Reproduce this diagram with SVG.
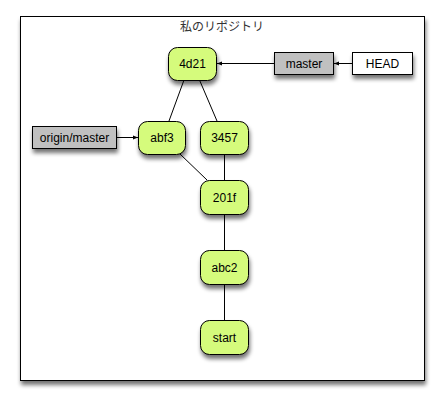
<svg xmlns="http://www.w3.org/2000/svg" width="445" height="404" viewBox="0 0 445 404">
<defs>
<filter id="sh" x="-30%" y="-30%" width="160%" height="180%">
<feGaussianBlur in="SourceAlpha" stdDeviation="2"/>
<feOffset dx="1" dy="4" result="b"/>
<feComponentTransfer><feFuncA type="linear" slope="0.55"/></feComponentTransfer>
<feMerge><feMergeNode/><feMergeNode in="SourceGraphic"/></feMerge>
</filter>
<marker id="ah" viewBox="0 0 10 10" refX="10" refY="5" markerWidth="5" markerHeight="5" orient="auto" markerUnits="userSpaceOnUse">
<path d="M0,1 L10,5 L0,9 z" fill="#000"/>
</marker>
<style>
.commit{fill:#d5fb7b;stroke:#000;stroke-width:1}
.ref{fill:#c0c0c0;stroke:#000;stroke-width:1}
.head{fill:#fff;stroke:#000;stroke-width:1}
.lbl{font-family:"Liberation Sans",Arial,sans-serif;font-size:12px;fill:#000;text-anchor:middle}
.edge{stroke:#000;stroke-width:1;fill:none}
.title{font-family:"Noto Sans CJK JP","Liberation Sans",sans-serif;font-size:12px;fill:#333;text-anchor:middle}
</style>
</defs>
<rect width="445" height="404" fill="#fff"/>
<g id="frame">
<rect x="20.5" y="16.5" width="404" height="364" fill="#fff" stroke="#000" stroke-width="1" filter="url(#sh)"/>
<text class="title" x="222" y="31">私のリポジトリ</text>
</g>
<g id="connectors">
<line class="edge" x1="184" y1="80" x2="169" y2="121"/>
<line class="edge" x1="199.5" y1="80" x2="217" y2="121"/>
<line class="edge" x1="180" y1="154" x2="207" y2="180"/>
<line class="edge" x1="224.5" y1="154" x2="224.5" y2="180"/>
<line class="edge" x1="224.5" y1="214" x2="224.5" y2="250"/>
<line class="edge" x1="224.5" y1="284" x2="224.5" y2="320"/>
<line class="edge" x1="274" y1="63.5" x2="217" y2="63.5" marker-end="url(#ah)"/>
<line class="edge" x1="352" y1="63.5" x2="334" y2="63.5" marker-end="url(#ah)"/>
<line class="edge" x1="116" y1="137.5" x2="138" y2="137.5" marker-end="url(#ah)"/>
</g>
<g id="node-4d21"><rect class="commit" x="168.5" y="47.5" width="48" height="33" rx="9" filter="url(#sh)"/><text class="lbl" x="192.5" y="68">4d21</text></g>
<g id="node-master"><rect class="ref" x="274.5" y="52.5" width="59" height="22" filter="url(#sh)"/><text class="lbl" x="304" y="68">master</text></g>
<g id="node-HEAD"><rect class="head" x="352.5" y="52.5" width="60" height="22" filter="url(#sh)"/><text class="lbl" x="382.5" y="68">HEAD</text></g>
<g id="node-origin-master"><rect class="ref" x="32.5" y="126.5" width="84" height="22" filter="url(#sh)"/><text class="lbl" x="74.5" y="142">origin/master</text></g>
<g id="node-abf3"><rect class="commit" x="138.5" y="121.5" width="47" height="33" rx="9" filter="url(#sh)"/><text class="lbl" x="162" y="142">abf3</text></g>
<g id="node-3457"><rect class="commit" x="200.5" y="121.5" width="48" height="33" rx="9" filter="url(#sh)"/><text class="lbl" x="224.5" y="142">3457</text></g>
<g id="node-201f"><rect class="commit" x="200.5" y="180.5" width="48" height="34" rx="9" filter="url(#sh)"/><text class="lbl" x="224.5" y="201.5">201f</text></g>
<g id="node-abc2"><rect class="commit" x="200.5" y="250.5" width="48" height="34" rx="9" filter="url(#sh)"/><text class="lbl" x="224.5" y="271.5">abc2</text></g>
<g id="node-start"><rect class="commit" x="200.5" y="320.5" width="48" height="34" rx="9" filter="url(#sh)"/><text class="lbl" x="224.5" y="341.5">start</text></g>
</svg>
